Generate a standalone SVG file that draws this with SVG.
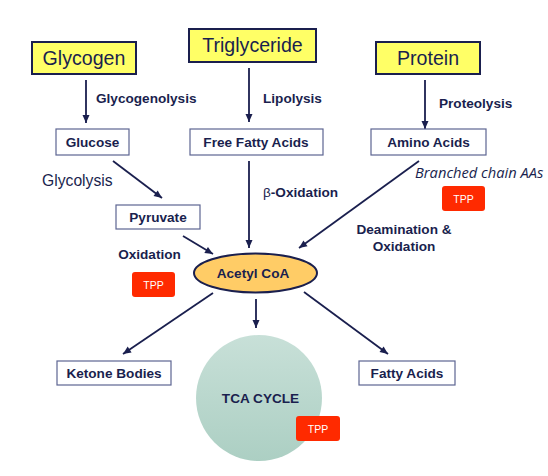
<svg xmlns="http://www.w3.org/2000/svg" width="548" height="476" viewBox="0 0 548 476">
<style>
.src{fill:#ffff66;stroke:#1a1f4e;stroke-width:2}
.srct{font-family:"Liberation Sans",Arial,sans-serif;font-size:19.6px;fill:#1a1f4e;text-anchor:middle}
.box{fill:#ffffff;stroke:#5d6592;stroke-width:1.2}
.bt{font-family:"Liberation Sans",Arial,sans-serif;font-size:13.6px;font-weight:bold;fill:#1a1f4e;text-anchor:middle}
.lbl{font-family:"Liberation Sans",Arial,sans-serif;font-size:13.6px;font-weight:bold;fill:#1a1f4e}
.tpp{fill:#ff2a00}
.tppt{font-family:"Liberation Sans",Arial,sans-serif;font-size:10.5px;fill:#ffffff;text-anchor:middle}
.arr{stroke:#1a1f4e;stroke-width:1.8;fill:none;marker-end:url(#ah)}
</style>
<defs>
<marker id="ah" markerUnits="userSpaceOnUse" markerWidth="10" markerHeight="10" viewBox="0 0 10 10" refX="9" refY="5" orient="auto">
<path d="M1,1.5 L9,5 L1,8.5 Z" fill="#1a1f4e"/>
</marker>
<linearGradient id="tcag" x1="0" y1="0" x2="0" y2="1">
<stop offset="0" stop-color="#c8e0d8"/>
<stop offset="1" stop-color="#accfc3"/>
</linearGradient>
</defs>
<rect width="548" height="476" fill="#ffffff"/>

<g id="connectors">
<line class="arr" x1="86" y1="80" x2="86" y2="123"/>
<line class="arr" x1="249" y1="68" x2="249" y2="122"/>
<line class="arr" x1="425" y1="80" x2="425" y2="129"/>
<line class="arr" x1="113" y1="161" x2="162" y2="198"/>
<line class="arr" x1="249" y1="161" x2="249" y2="248"/>
<line class="arr" x1="419" y1="161" x2="299" y2="248"/>
<line class="arr" x1="183" y1="236" x2="213" y2="254"/>
<line class="arr" x1="213" y1="293" x2="123" y2="354"/>
<line class="arr" x1="256" y1="299" x2="256" y2="328"/>
<line class="arr" x1="304" y1="292" x2="388" y2="354"/>
</g>

<g id="glycogen"><rect class="src" x="32" y="42" width="104" height="32"/><text class="srct" x="84" y="65">Glycogen</text></g>
<g id="triglyceride"><rect class="src" x="189" y="29" width="127" height="33"/><text class="srct" x="252.5" y="52">Triglyceride</text></g>
<g id="protein"><rect class="src" x="376" y="42" width="104" height="32"/><text class="srct" x="428" y="65">Protein</text></g>

<g id="glucose"><rect class="box" x="56" y="129" width="73" height="26"/><text class="bt" x="92.5" y="147">Glucose</text></g>
<g id="ffa"><rect class="box" x="190" y="129" width="133" height="26"/><text class="bt" x="256" y="146.5">Free Fatty Acids</text></g>
<g id="aminoacids"><rect class="box" x="371" y="129" width="115" height="26"/><text class="bt" x="428.5" y="146.5">Amino Acids</text></g>
<g id="pyruvate"><rect class="box" x="116" y="205" width="84" height="24"/><text class="bt" x="158" y="222">Pyruvate</text></g>
<g id="ketone"><rect class="box" x="57" y="361" width="114" height="24"/><text class="bt" x="114" y="377.5">Ketone Bodies</text></g>
<g id="fattyacids"><rect class="box" x="359" y="361" width="96" height="24"/><text class="bt" x="407" y="377.5">Fatty Acids</text></g>

<g id="acetylcoa"><ellipse cx="255.5" cy="273" rx="61.5" ry="19.5" fill="#ffcc66" stroke="#1a1f4e" stroke-width="2"/><text class="bt" x="253" y="278">Acetyl CoA</text></g>

<g id="tca"><circle cx="259" cy="398" r="63" fill="url(#tcag)"/><text class="bt" x="260.5" y="403">TCA CYCLE</text></g>

<g id="tpp1"><rect class="tpp" x="442" y="186" width="43" height="25" rx="3"/><text class="tppt" x="463.5" y="202.5">TPP</text></g>
<g id="tpp2"><rect class="tpp" x="132" y="272" width="43" height="25" rx="3"/><text class="tppt" x="153.5" y="288.5">TPP</text></g>
<g id="tpp3"><rect class="tpp" x="296" y="416" width="44" height="25" rx="3"/><text class="tppt" x="318" y="432.5">TPP</text></g>

<g id="labels">
<text class="lbl" x="96" y="103">Glycogenolysis</text>
<text class="lbl" x="263" y="103">Lipolysis</text>
<text class="lbl" x="439" y="108">Proteolysis</text>
<text x="42" y="186" font-family="'Liberation Sans',Arial,sans-serif" font-size="15.7px" fill="#1a1f4e">Glycolysis</text>
<text class="lbl" x="263" y="197"><tspan font-weight="normal">β</tspan>-Oxidation</text>
<text class="bt" x="149.5" y="259">Oxidation</text>
<text class="bt" x="404" y="234">Deamination &amp;</text>
<text class="bt" x="404" y="251">Oxidation</text>
<text x="415" y="178" font-family="'Open Sans',sans-serif" font-style="italic" font-size="14.7px" fill="#1a1f4e">Branched chain AAs</text>
</g>
</svg>
